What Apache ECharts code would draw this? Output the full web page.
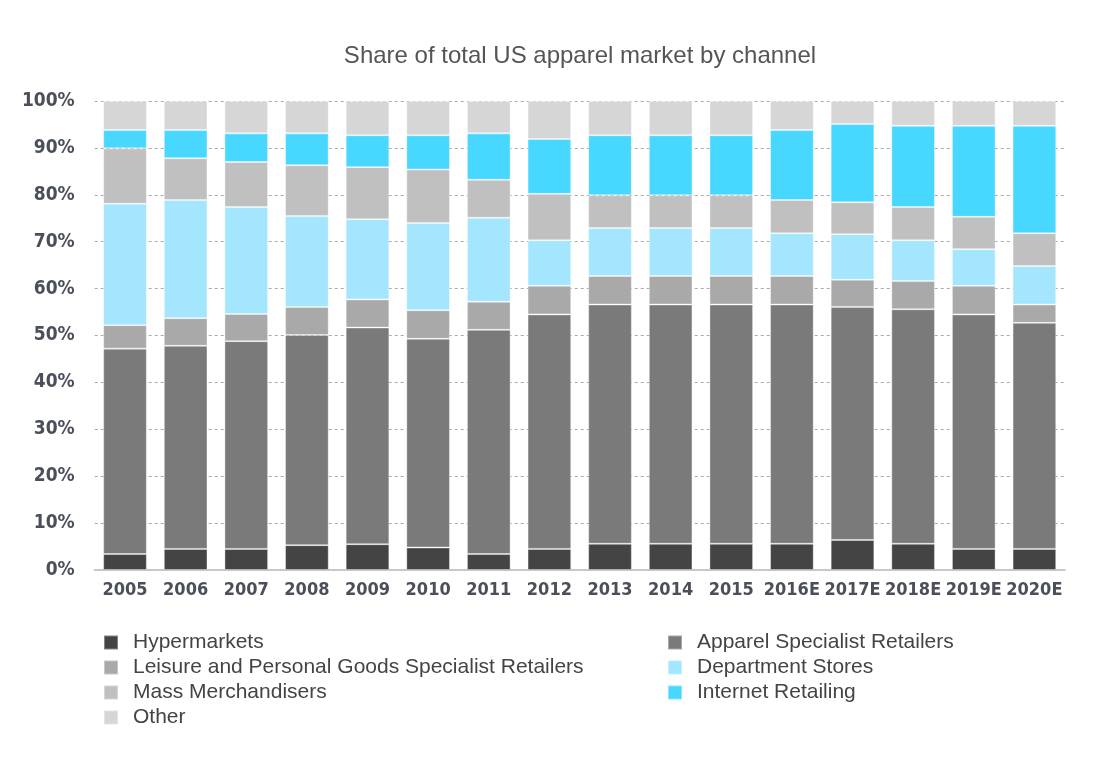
<!DOCTYPE html>
<html>
<head>
<meta charset="utf-8">
<script src="https://cdn.jsdelivr.net/npm/echarts@6/dist/echarts.min.js"></script>
<style>
  html, body { margin: 0; padding: 0; background: #fff; }
  #chart { width: 1102px; height: 770px; }
</style>
</head>
<body>
<div id="chart"></div>
<script>
const years = ["2005", "2006", "2007", "2008", "2009", "2010", "2011", "2012", "2013", "2014", "2015", "2016E", "2017E", "2018E", "2019E", "2020E"];
const yTicks = [0, 10, 20, 30, 40, 50, 60, 70, 80, 90, 100];

// shares in % (bottom to top of each stack)
const hypermarkets = [3.4, 4.5, 4.5, 5.3, 5.5, 4.8, 3.4, 4.5, 5.6, 5.6, 5.6, 5.6, 6.4, 5.6, 4.5, 4.5];
const apparelSpecialist = [43.8, 43.3, 44.3, 44.8, 46.2, 44.5, 47.8, 50.0, 51.0, 51.0, 51.0, 51.0, 49.7, 50.0, 50.0, 48.2];
const leisureSpecialist = [5.0, 5.9, 5.8, 6.0, 6.0, 6.1, 6.0, 6.1, 6.1, 6.1, 6.1, 6.1, 5.8, 6.0, 6.1, 3.9];
const departmentStores = [25.9, 25.2, 22.8, 19.4, 17.1, 18.6, 17.9, 9.7, 10.2, 10.2, 10.2, 9.1, 9.7, 8.7, 7.8, 8.2];
const massMerchandisers = [11.8, 8.9, 9.6, 10.8, 11.1, 11.4, 8.1, 9.9, 7.0, 7.0, 7.0, 7.1, 6.8, 7.1, 6.9, 7.0];
const internetRetailing = [3.9, 6.0, 6.1, 6.8, 6.8, 7.3, 9.9, 11.7, 12.8, 12.8, 12.8, 14.9, 16.7, 17.3, 19.4, 22.9];
const other = [6.2, 6.2, 6.9, 6.9, 7.3, 7.3, 6.9, 8.1, 7.3, 7.3, 7.3, 6.2, 4.9, 5.3, 5.3, 5.3];

const chart = echarts.init(document.getElementById("chart"));

const seriesDefs = [
  { name: "Hypermarkets", data: hypermarkets, color: "#444444" },
  { name: "Apparel Specialist Retailers", data: apparelSpecialist, color: "#7a7a7a" },
  { name: "Leisure and Personal Goods Specialist Retailers", data: leisureSpecialist, color: "#a9a9a9" },
  { name: "Department Stores", data: departmentStores, color: "#a3e6fd" },
  { name: "Mass Merchandisers", data: massMerchandisers, color: "#c0c0c0" },
  { name: "Internet Retailing", data: internetRetailing, color: "#48d7ff" },
  { name: "Other", data: other, color: "#d6d6d6" },
];

const axisFont = "Liberation Sans Narrow, DejaVu Sans Condensed, sans-serif";

const legendBase = {
  orient: "vertical",
  icon: "rect",
  itemWidth: 14,
  itemHeight: 14,
  itemGap: 4,
  padding: 0,
  selectedMode: false,
  textStyle: {
    fontFamily: "Liberation Sans, Arial, sans-serif",
    fontSize: 21,
    color: "#444",
    lineHeight: 21,
    padding: [0, 0, 0, 10],
  },
};

const option = {
  animation: false,
  backgroundColor: "#fff",
  color: seriesDefs.map((s) => s.color),
  title: {
    text: "Share of total US apparel market by channel",
    left: 580,
    textAlign: "center",
    top: 44,
    padding: 0,
    textStyle: {
      fontFamily: "Liberation Sans, Arial, sans-serif",
      fontSize: 24,
      fontWeight: "normal",
      color: "#555",
    },
  },
  legend: [
    Object.assign({}, legendBase, {
      left: 103,
      top: 632,
      data: ["Hypermarkets", "Leisure and Personal Goods Specialist Retailers", "Mass Merchandisers", "Other"],
    }),
    Object.assign({}, legendBase, {
      left: 667,
      top: 632,
      data: ["Apparel Specialist Retailers", "Department Stores", "Internet Retailing"],
    }),
  ],
  grid: {
    left: 94.7,
    right: 37.3,
    top: 101,
    bottom: 200,
    containLabel: false,
  },
  xAxis: {
    type: "category",
    data: years,
    axisLine: { lineStyle: { color: "#c8c8c8", width: 2 } },
    axisTick: { show: false },
    axisLabel: {
      interval: 0,
      margin: 11,
      fontFamily: axisFont,
      fontWeight: "bold",
      fontSize: 18,
      color: "#4a4f5a",
    },
  },
  yAxis: {
    type: "value",
    min: yTicks[0],
    max: yTicks[yTicks.length - 1],
    interval: 10,
    axisLine: { show: false },
    axisTick: { show: false },
    splitLine: {
      lineStyle: { type: [3, 3], color: "#aaaaaa", width: 1 },
    },
    axisLabel: {
      margin: 20,
      fontFamily: axisFont,
      fontWeight: "bold",
      fontSize: 19,
      color: "#4a4f5a",
      formatter: (v) => v + "%",
    },
  },
  series: seriesDefs.map((s) => ({
    name: s.name,
    type: "bar",
    stack: "share",
    barWidth: "72%",
    data: s.data,
    itemStyle: {
      color: s.color,
      borderColor: "rgba(255,255,255,0.35)",
      borderWidth: 1,
    },
  })),
};

chart.setOption(option);
</script>
</body>
</html>
